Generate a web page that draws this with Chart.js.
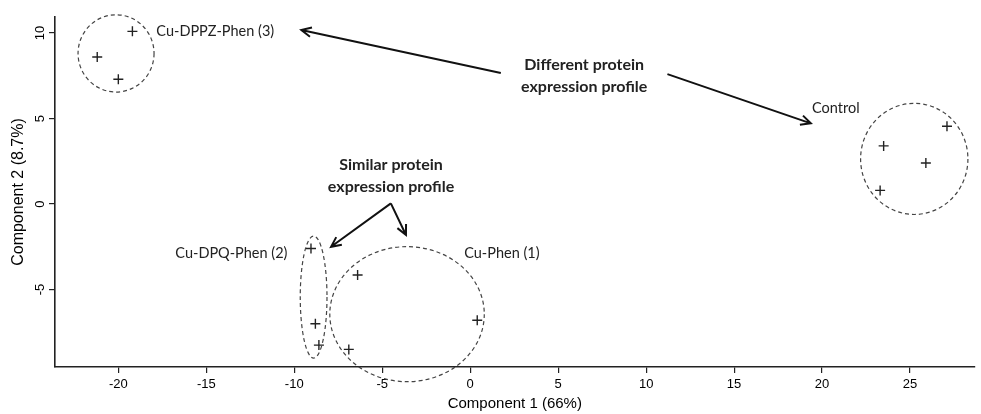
<!DOCTYPE html>
<html>
<head>
  <title>PCA of protein expression</title>
  <script src="https://cdn.jsdelivr.net/npm/chart.js"></script>
  <style>
    body {
      margin: 0;
      background: #fff;
    }
    .chart-container {
      position: relative;
      width: 981px;
      height: 414px;
    }
  </style>
</head>
<body>
  <div class="chart-container">
    <canvas id="pcaChart"></canvas>
  </div>
  <script>
    // Scores (Component 1, Component 2)
    const controlX = [27.1, 23.5, 25.9, 23.3];
    const controlY = [4.55, 3.4, 2.4, 0.8];
    const cuPhenX = [-6.4, 0.4, -6.9];
    const cuPhenY = [-4.15, -6.8, -8.5];
    const cuDpqX = [-9.05, -8.8, -8.6];
    const cuDpqY = [-2.6, -7.0, -8.25];
    const cuDppzX = [-19.2, -21.2, -20.0];
    const cuDppzY = [10.1, 8.6, 7.3];

    // Tick labels
    const xTicks = [-20, -15, -10, -5, 0, 5, 10, 15, 20, 25];
    const yTicks = [-5, 0, 5, 10];

    // Group labels (left edge, middle) in data units
    const groupNames = ['Cu-DPPZ-Phen (3)', 'Control', 'Cu-DPQ-Phen (2)', 'Cu-Phen (1)'];
    const groupLabelX = [-17.84, 19.43, -16.76, -0.34];
    const groupLabelY = [10.12, 5.61, -2.87, -2.87];

    // Dashed ellipses round each group: centre and radii in data units
    const ellipseCx = [-20.13, 25.24, -8.9, -3.59];
    const ellipseCy = [8.81, 2.64, -5.44, -6.44];
    const ellipseRx = [2.16, 3.05, 0.76, 4.39];
    const ellipseRy = [2.26, 3.25, 3.57, 3.95];

    // Notes (centred) and arrows
    const noteLines = ['Different protein', 'expression profile', 'Similar protein', 'expression profile'];
    const noteX = [6.48, 6.48, -4.5, -4.5];
    const noteY = [8.13, 6.84, 2.28, 1.01];
    const arrowFromX = [1.74, 11.21, -4.51, -4.51];
    const arrowFromY = [7.66, 7.6, 0.04, 0.04];
    const arrowToX = [-9.6, 19.36, -7.91, -3.65];
    const arrowToY = [10.18, 4.72, -2.5, -1.81];

    const axisFont = "'Liberation Sans', Arial, sans-serif";

    const toPoints = (xs, ys) => xs.map((x, i) => ({ x: x, y: ys[i] }));

    const annotations = {
      id: 'annotations',
      afterDatasetsDraw(chart) {
        const ctx = chart.ctx;
        const xs = chart.scales.x;
        const ys = chart.scales.y;
        const px = (v) => xs.getPixelForValue(v);
        const py = (v) => ys.getPixelForValue(v);
        ctx.save();

        // ellipses
        ctx.strokeStyle = '#444';
        ctx.lineWidth = 1.2;
        ctx.setLineDash([4, 3]);
        ellipseCx.forEach((cx, i) => {
          const rx = Math.abs(px(cx + ellipseRx[i]) - px(cx));
          const ry = Math.abs(py(ellipseCy[i] + ellipseRy[i]) - py(ellipseCy[i]));
          ctx.beginPath();
          ctx.ellipse(px(cx), py(ellipseCy[i]), rx, ry, 0, 0, Math.PI * 2);
          ctx.stroke();
        });
        ctx.setLineDash([]);

        // arrows
        ctx.strokeStyle = '#111';
        ctx.lineWidth = 2;
        arrowFromX.forEach((fx, i) => {
          const x0 = px(fx), y0 = py(arrowFromY[i]);
          const x1 = px(arrowToX[i]), y1 = py(arrowToY[i]);
          const a = Math.atan2(y1 - y0, x1 - x0);
          ctx.beginPath();
          ctx.moveTo(x0, y0);
          ctx.lineTo(x1, y1);
          ctx.moveTo(x1 - 11 * Math.cos(a - 0.45), y1 - 11 * Math.sin(a - 0.45));
          ctx.lineTo(x1, y1);
          ctx.lineTo(x1 - 11 * Math.cos(a + 0.45), y1 - 11 * Math.sin(a + 0.45));
          ctx.stroke();
        });

        // group labels
        ctx.fillStyle = '#222';
        ctx.font = '14.5px Lato';
        ctx.textAlign = 'left';
        ctx.textBaseline = 'middle';
        groupNames.forEach((t, i) => {
          ctx.fillText(t, px(groupLabelX[i]), py(groupLabelY[i]));
        });

        // notes
        ctx.font = 'bold 16px Lato';
        ctx.textAlign = 'center';
        noteLines.forEach((t, i) => {
          ctx.fillText(t, px(noteX[i]), py(noteY[i]));
        });

        // y tick labels, written upright like the original
        ctx.fillStyle = '#000';
        ctx.font = '13px "Liberation Sans"';
        ys.ticks.forEach((tk) => {
          ctx.save();
          ctx.translate(40, py(tk.value));
          ctx.rotate(-Math.PI / 2);
          ctx.textAlign = 'center';
          ctx.fillText(String(tk.value), 0, 0);
          ctx.restore();
        });
        ctx.restore();
      }
    };

    const markStyle = {
      pointStyle: 'cross',
      pointRadius: 5,
      borderColor: '#222',
      borderWidth: 1.4,
      showLine: false
    };

    new Chart(document.getElementById('pcaChart').getContext('2d'), {
      type: 'scatter',
      data: {
        datasets: [
          Object.assign({ label: 'Control', data: toPoints(controlX, controlY) }, markStyle),
          Object.assign({ label: 'Cu-Phen (1)', data: toPoints(cuPhenX, cuPhenY) }, markStyle),
          Object.assign({ label: 'Cu-DPQ-Phen (2)', data: toPoints(cuDpqX, cuDpqY) }, markStyle),
          Object.assign({ label: 'Cu-DPPZ-Phen (3)', data: toPoints(cuDppzX, cuDppzY) }, markStyle)
        ]
      },
      options: {
        responsive: true,
        maintainAspectRatio: false,
        animation: false,
        layout: { padding: { top: 17, left: 0, right: 0, bottom: 0 } },
        plugins: {
          legend: { display: false },
          tooltip: { enabled: false }
        },
        scales: {
          x: {
            type: 'linear',
            min: -23.6,
            max: 28.67,
            afterBuildTicks: (s) => { s.ticks = xTicks.map((v) => ({ value: v })); },
            afterFit: (s) => { s.height = 47; },
            ticks: {
              padding: 4,
              color: '#000',
              font: { family: axisFont, size: 13 }
            },
            grid: { drawOnChartArea: false, drawTicks: true, tickLength: 6, color: '#222', lineWidth: 1.2 },
            border: { display: true, color: '#222', width: 1.6 },
            title: {
              display: true,
              text: 'Component 1 (66%)',
              color: '#000',
              font: { family: axisFont, size: 15 },
              padding: { top: 0, bottom: 1 }
            }
          },
          y: {
            type: 'linear',
            min: -9.53,
            max: 10.94,
            afterBuildTicks: (s) => { s.ticks = yTicks.map((v) => ({ value: v })); },
            afterFit: (s) => { s.width = 55; },
            ticks: { display: false },
            grid: { drawOnChartArea: false, drawTicks: true, tickLength: 6, color: '#222', lineWidth: 1.2 },
            border: { display: true, color: '#222', width: 1.6 },
            title: {
              display: true,
              text: 'Component 2 (8.7%)',
              color: '#000',
              font: { family: axisFont, size: 16 },
              padding: { top: 9, bottom: 0 }
            }
          }
        }
      },
      plugins: [annotations]
    });
  </script>
</body>
</html>
